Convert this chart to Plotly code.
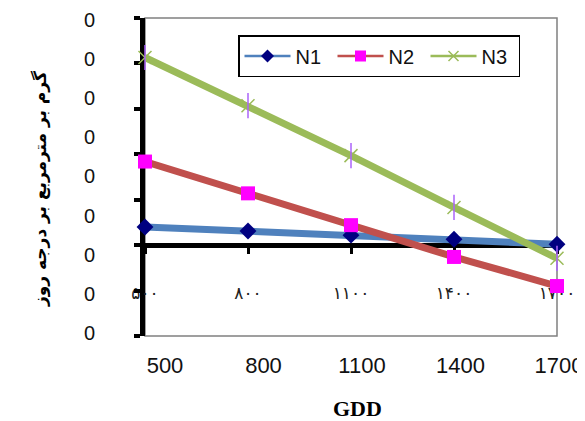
import plotly.graph_objects as go

# ---------------- data ----------------
gdd = [500, 800, 1100, 1400, 1700]
gdd_fa = ["۵۰۰", "۸۰۰", "۱۱۰۰", "۱۴۰۰", "۱۷۰۰"]
n1 = [0.40, 0.31, 0.22, 0.13, 0.02]
n2 = [1.84, 1.14, 0.44, -0.26, -0.90]
n3 = [4.13, 3.07, 1.97, 0.83, -0.29]
series_names = ["N1", "N2", "N3"]

bottom_ticks = [500, 800, 1100, 1400, 1700]
bottom_text = ["500", "800", "1100", "1400", "1700"]
ylab_vals = list(range(9))
ylab_text = ["0"] * 9
y_title = "گرم بر مترمربع بر درجه روز"
x_title = "GDD"

# ---------------- layout geometry ----------------
OFF = 8                      # default body margin of the html page
W, H = 585 - OFF, 421 - OFF
L, R, T = 145 - OFF, 0, 18 - OFF
plot_bottom = 336 - OFF
B = H - plot_bottom
PW, PH = W - L - R, H - T - B
plot_right = 557 - OFF
xdom_end = (plot_right - L) / PW
y_range = [-2, 5]
zero_pos = (0 - y_range[0]) / (y_range[1] - y_range[0])


def px_x(p):  # page px -> paper fraction
    return (p - OFF - L) / PW


def px_y(p):
    return (plot_bottom - (p - OFF)) / PH


# bottom (english) axis: 500 -> 165px, 1700 -> 559px (page)
pa, pb = 165 - OFF - L, 559 - OFF - L
upp = (1700 - 500) / (pb - pa)
x2_lo = 500 - pa * upp
x2_hi = x2_lo + PW * upp

line_colors = ["#4F81BD", "#C0504D", "#9BBB59"]
marker_colors = ["#000080", "#FF00FF", "#333333"]

fig = go.Figure()

# main series
fig.add_trace(go.Scatter(x=gdd, y=n1, mode="lines+markers", showlegend=False,
                         line=dict(color=line_colors[0], width=7),
                         marker=dict(symbol="diamond", size=13, color=marker_colors[0]),
                         cliponaxis=False))
fig.add_trace(go.Scatter(x=gdd, y=n2, mode="lines+markers", showlegend=False,
                         line=dict(color=line_colors[1], width=7),
                         marker=dict(symbol="square", size=14, color=marker_colors[1]),
                         cliponaxis=False))
fig.add_trace(go.Scatter(x=gdd, y=n3, mode="lines+markers", showlegend=False,
                         line=dict(color=line_colors[2], width=7),
                         marker=dict(symbol="x-thin-open", size=13,
                                     line=dict(color=marker_colors[2], width=1.5)),
                         cliponaxis=False))
fig.add_trace(go.Scatter(x=gdd, y=n3, mode="markers", showlegend=False,
                         marker=dict(symbol="line-ns-open", size=18,
                                     line=dict(color=marker_colors[2], width=1.5)),
                         cliponaxis=False, hoverinfo="skip"))

# legend entries (thin lines)
fig.add_trace(go.Scatter(x=[None], y=[None], mode="lines+markers", name=series_names[0],
                         line=dict(color=line_colors[0], width=2.5),
                         marker=dict(symbol="diamond", size=10, color=marker_colors[0])))
fig.add_trace(go.Scatter(x=[None], y=[None], mode="lines+markers", name=series_names[1],
                         line=dict(color=line_colors[1], width=2.5),
                         marker=dict(symbol="square", size=11, color=marker_colors[1])))
fig.add_trace(go.Scatter(x=[None], y=[None], mode="lines+markers", name=series_names[2],
                         line=dict(color=line_colors[2], width=2.5),
                         marker=dict(symbol="x-thin-open", size=10,
                                     line=dict(color=marker_colors[2], width=1.5))))

# helper traces for secondary axes
fig.add_trace(go.Scatter(x=[None], y=[None], xaxis="x2", yaxis="y",
                         showlegend=False, hoverinfo="skip"))
fig.add_trace(go.Scatter(x=[None], y=[None], xaxis="x", yaxis="y2",
                         showlegend=False, hoverinfo="skip"))

fig.update_layout(
    width=W, height=H,
    margin=dict(l=L, r=R, t=T, b=B, pad=0, autoexpand=False),
    paper_bgcolor="white",
    plot_bgcolor="rgba(0,0,0,0)",
    font=dict(family="Liberation Sans, Arial, sans-serif", color="black"),
    xaxis=dict(domain=[0, xdom_end], range=[gdd[0], gdd[-1]],
               anchor="free", position=zero_pos, automargin=False,
               showline=True, linecolor="black", linewidth=5,
               ticks="outside", ticklen=6, tickwidth=3, tickcolor="black",
               tickvals=gdd, ticktext=gdd_fa,
               tickfont=dict(family="DejaVu Sans", size=17, color="#222"),
               ticklabelstandoff=24,
               showgrid=False, zeroline=False, layer="below traces"),
    yaxis=dict(domain=[0, 1], range=y_range, anchor="x", automargin=False,
               showline=True, linecolor="black", linewidth=5,
               ticks="outside", ticklen=6, tickwidth=4, tickcolor="black",
               tick0=0, dtick=1, showticklabels=False,
               showgrid=False, zeroline=False, layer="below traces"),
    xaxis2=dict(domain=[0, 1], range=[x2_lo, x2_hi], anchor="y", side="bottom",
                automargin=False,
                showline=False, ticks="", tickvals=bottom_ticks, ticktext=bottom_text,
                tickfont=dict(family="Liberation Sans, Arial", size=22, color="#111"),
                ticklabelstandoff=14,
                showgrid=False, zeroline=False),
    yaxis2=dict(overlaying="y", anchor="x", side="left", range=[-0.08, 8.05],
                automargin=False,
                showline=False, ticks="", tickvals=ylab_vals, ticktext=ylab_text,
                tickfont=dict(family="Liberation Sans, Arial", size=20, color="#111"),
                ticklabelstandoff=49,
                showgrid=False, zeroline=False),
    legend=dict(orientation="h", x=px_x(238), y=px_y(35),
                xanchor="left", yanchor="top",
                bgcolor="white", bordercolor="black", borderwidth=1.5,
                font=dict(family="Liberation Sans Narrow, Arial Narrow, Liberation Sans",
                          size=20, color="#111"),
                entrywidth=32, itemwidth=46),
    shapes=[dict(type="rect", xref="x domain", yref="y domain",
                 x0=0, x1=1, y0=0, y1=1, line=dict(color="#808080", width=1.5),
                 layer="below")],
    annotations=[
        dict(text=x_title, xref="paper", yref="paper",
             x=px_x(357), y=px_y(408),
             xanchor="center", yanchor="middle", showarrow=False,
             font=dict(family="Liberation Serif, Times New Roman", size=22,
                       color="black", weight="bold")),
        dict(text=y_title, xref="paper", yref="paper",
             x=px_x(40), y=px_y(189), textangle=-90,
             xanchor="center", yanchor="middle", showarrow=False,
             font=dict(family="DejaVu Sans", size=17, color="black", weight="bold")),
    ],
)

fig.write_html("out.html")
